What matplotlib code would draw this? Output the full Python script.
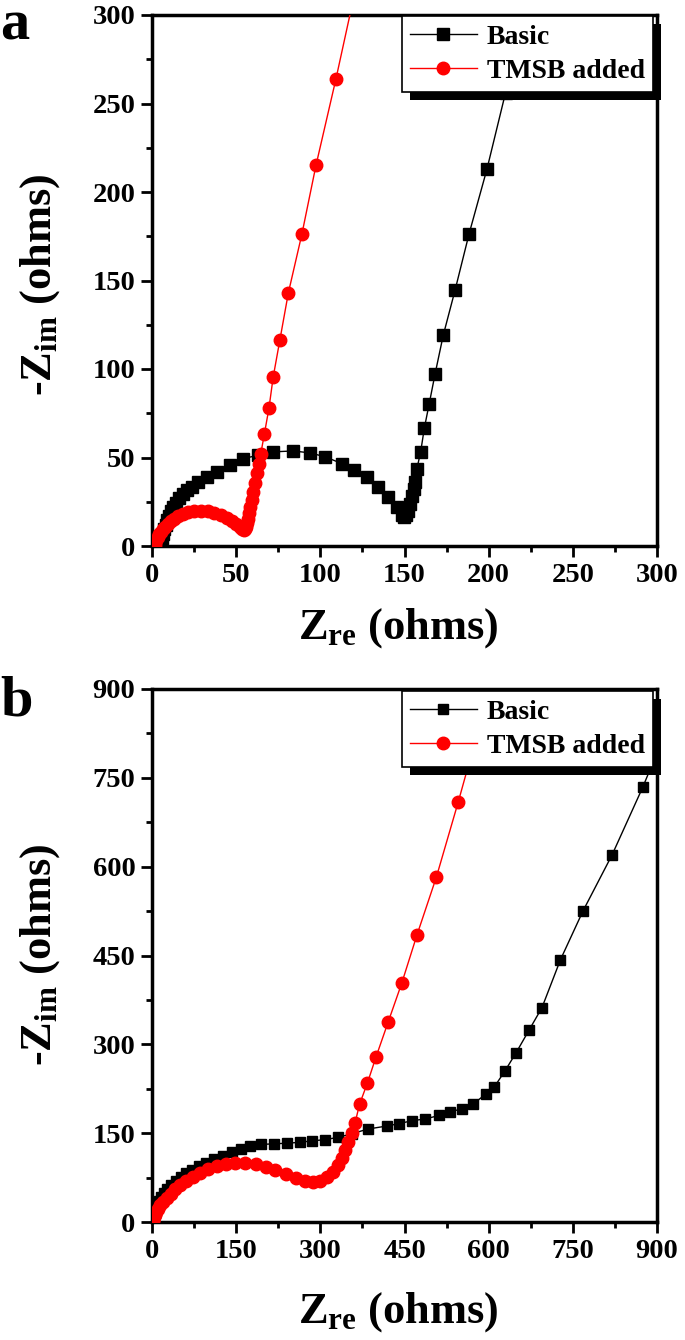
import matplotlib
matplotlib.use('Agg')
import matplotlib.pyplot as plt
from matplotlib.ticker import MultipleLocator
from matplotlib.patches import Rectangle

# ---------------- data ----------------
a_basic_x = [5.5, 6, 6.6, 7.3, 8.1, 9, 10, 11.2, 12.6, 14.2, 16, 18.2, 20.8, 23.6, 27.5, 32.5,
             38.4, 46.3, 54.3, 63.2, 72.1, 84, 93.9, 102.8, 112.7, 120, 127.5, 134.5, 140.4,
             145.4, 148.3, 149.5, 150.8, 152, 153.2, 154.4, 155.4, 156.3, 157.3, 159.6, 161.8,
             164.6, 168.2, 173, 180, 188.4, 199, 210, 221]
a_basic_y = [2, 4.5, 7, 9.5, 12, 14.5, 17, 19.5, 22, 24.5, 27, 29.5, 31.5, 33.5, 36.3, 39.1,
             41.9, 45.7, 49.4, 51.3, 53.2, 53.7, 52.6, 50.4, 46.6, 42.9, 39.1, 33.5, 27.8,
             22.2, 17.5, 16.5, 17.5, 20, 23.5, 28, 32, 36.3, 43.4, 53.2, 66.7,
             80, 97.4, 119, 144.4, 176.5, 213, 256, 300]

a_tmsb_x = [1.5, 2, 2.6, 3.3, 4.2, 5.2, 6.4, 7.8, 9.4, 11.2, 13.3, 15.7, 18.5, 21.5, 25, 29,
            33, 37, 41, 44.5, 47.5, 50, 52, 53.5, 54.5, 55.3, 56, 56.6, 57.2, 57.8, 58.5, 59.3,
            60.2, 61.2, 62.3, 63.4, 64.6, 66.7, 69.5, 72, 76, 81, 89, 97.4, 109.3, 121]
a_tmsb_y = [0.5, 2, 3.5, 5, 6.5, 8, 9.5, 11, 12.5, 14, 15.5, 17, 18.2, 19.2, 19.8, 20,
            19.7, 18.8, 17.5, 16, 14.3, 12.6, 11, 9.8, 9, 9.5, 11, 13, 15.5, 18.5, 22, 26,
            30.5, 35.5, 41, 46.5, 52, 63, 78, 95.5, 116.6, 143, 176, 215, 264, 315]

b_basic_x = [2, 3, 4.5, 6.5, 9, 12, 16, 21, 27, 34, 42, 51, 61, 72, 84, 97, 111, 126, 142, 158,
             175, 195, 217, 240, 263, 285, 308, 332, 356, 385, 418, 440, 463, 487, 512, 531,
             552, 572, 595, 610, 629, 649, 672, 695, 728, 768, 820, 875, 925]
b_basic_y = [5, 10, 16, 22, 28, 35, 42, 49, 56, 63, 70, 76, 82, 88, 94, 100, 106, 112, 118, 124,
             128, 131, 132, 133, 134.5, 137, 139, 143, 149, 157, 162, 166, 171, 174, 180, 186,
             191, 199, 216, 228, 255, 286, 324, 362, 443, 525, 620, 735, 850]

b_tmsb_x = [1, 2, 3.5, 5.5, 8, 11, 15, 20, 26, 33, 41, 50, 61, 73, 86, 100, 115, 131, 148, 166,
            185, 203, 220, 238, 256, 272, 287, 300, 312, 322, 331, 338, 344, 350, 356, 362,
            370, 384, 399, 421, 445, 472, 507, 546, 590]
b_tmsb_y = [1, 4, 8, 12, 17, 22, 28, 34, 41, 48, 55, 62, 69, 76, 83, 89, 94, 98, 100, 100,
            98, 93, 87, 81, 74, 69, 68, 70, 76, 85, 96, 108, 121, 135, 150, 168,
            199, 235, 278, 338, 403, 484, 583, 710, 860]

series_labels = ["Basic", "TMSB added"]
panel_letters = ["a", "b"]
x_label = r"$Z_{re}$ (ohms)"
y_label = r"-$Z_{im}$ (ohms)"

# ---------------- style ----------------
plt.rcParams['font.family'] = ['Liberation Serif', 'DejaVu Serif']
plt.rcParams['font.weight'] = 'bold'
plt.rcParams['mathtext.fontset'] = 'custom'
plt.rcParams['mathtext.rm'] = 'Liberation Serif:bold'
plt.rcParams['mathtext.it'] = 'Liberation Serif:bold'
plt.rcParams['mathtext.bf'] = 'Liberation Serif:bold'

W, H = 685, 1340
fig = plt.figure(figsize=(W / 100, H / 100), dpi=100)
fig.patch.set_facecolor('white')

axA = fig.add_axes([152 / W, 1 - 546 / H, 505 / W, 531 / H])
axB = fig.add_axes([152 / W, 1 - 1222 / H, 505 / W, 533 / H])


def style(ax, lim, major, minor):
    ax.set_xlim(0, lim)
    ax.set_ylim(0, lim)
    ax.xaxis.set_major_locator(MultipleLocator(major))
    ax.yaxis.set_major_locator(MultipleLocator(major))
    ax.xaxis.set_minor_locator(MultipleLocator(minor))
    ax.yaxis.set_minor_locator(MultipleLocator(minor))
    for s in ax.spines.values():
        s.set_linewidth(2.5)
    ax.tick_params(which='both', direction='out', top=False, right=False, width=2)
    ax.tick_params(which='major', length=8, labelsize=20.5, pad=4)
    ax.tick_params(which='minor', length=4)
    for lab in ax.get_xticklabels() + ax.get_yticklabels():
        lab.set_fontweight('bold')


def draw(ax, bx, by, tx, ty, ms_s, ms_c):
    l1, = ax.plot(bx, by, '-s', color='black', lw=1, ms=ms_s, label=series_labels[0], zorder=3)
    l2, = ax.plot(tx, ty, '-o', color='#ff0000', lw=1, ms=ms_c, label=series_labels[1], zorder=3)
    return [l1, l2]


hA = draw(axA, a_basic_x, a_basic_y, a_tmsb_x, a_tmsb_y, 8.5, 9)
hB = draw(axB, b_basic_x, b_basic_y, b_tmsb_x, b_tmsb_y, 7.5, 9)
style(axA, 300, 50, 25)
style(axB, 900, 150, 75)

legs = []
for ax, h, top_px in [(axA, hA, 16), (axB, hB, 691)]:
    leg = ax.legend(handles=h, loc='upper right',
                    bbox_to_anchor=(653 / W, 1 - top_px / H), bbox_transform=fig.transFigure,
                    borderaxespad=0, fancybox=False, edgecolor='black', framealpha=1,
                    handlelength=2.4, handletextpad=0.35, labelspacing=0.3,
                    borderpad=0.3, prop={'weight': 'bold', 'size': 20})
    leg.get_frame().set_linewidth(1.2)
    leg.set_zorder(6)
    legs.append((ax, leg))

for i, (yc_lab, yc_ylab, y_letter) in enumerate([(628, 285, 0), (1312, 955, 676)]):
    fig.text(398 / W, 1 - yc_lab / H, x_label, ha='center', va='center', fontsize=32,
             fontweight='bold')
    fig.text(40 / W, 1 - yc_ylab / H, y_label, ha='center', va='center', fontsize=32,
             fontweight='bold', rotation=90)
    fig.text(0 / W, 1 - y_letter / H, panel_letters[i], ha='left', va='top', fontsize=42,
             fontweight='bold')

# black drop shadow behind legends
fig.canvas.draw()
for ax, leg in legs:
    bb = leg.get_window_extent()
    inv = ax.transAxes.inverted()
    (x0, y0) = inv.transform((bb.x0 + 8, bb.y0 - 8))
    (x1, y1) = inv.transform((bb.x1 + 8, bb.y1 - 8))
    ax.add_patch(Rectangle((x0, y0), x1 - x0, y1 - y0, transform=ax.transAxes,
                           facecolor='black', edgecolor='none', clip_on=False, zorder=5.5))

fig.savefig('out.png', dpi=100, facecolor='white')
